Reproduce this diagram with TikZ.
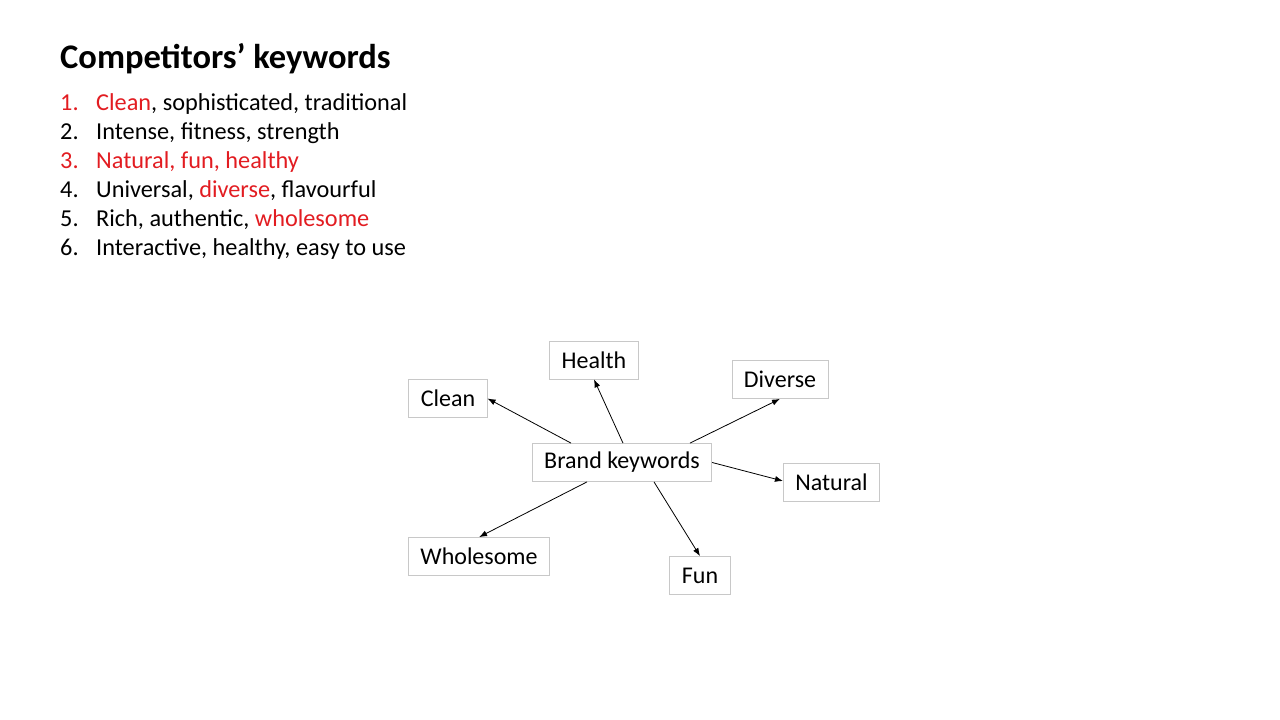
\documentclass[tikz,border=0pt]{standalone}
\usepackage{fontspec}
\setmainfont{Carlito}
\usepackage{xcolor}
\usetikzlibrary{arrows.meta}
\definecolor{keyred}{RGB}{226,28,33}
\definecolor{boxgray}{RGB}{200,200,200}

\begin{document}
\begin{tikzpicture}[x=1pt, y=-1pt,
    item/.style = {anchor=base west, inner sep=0pt, font=\fontsize{24.3}{28}\selectfont},
    kw/.style = {draw=boxgray, line width=0.8pt, inner xsep=12pt, minimum height=38pt, font=\fontsize{24}{28}\selectfont},
    link/.style = {-{Latex[length=8pt,width=6pt]}, line width=0.8pt}]
    \useasboundingbox (0,0) rectangle (1280,720);

    % title and list
    \node [anchor=base west, inner sep=0pt, font=\fontsize{34.5}{38}\bfseries] (title) at (60,68) {Competitors’ keywords};
    \node [item, keyred] (n1) at (60,110) {1.};
    \node [item] (t1) at (96,110) {\textcolor{keyred}{Clean}, sophisticated, traditional};
    \node [item] (n2) at (60,139) {2.};
    \node [item] (t2) at (96,139) {Intense, fitness, strength};
    \node [item, keyred] (n3) at (60,168) {3.};
    \node [item, keyred] (t3) at (96,168) {Natural, fun, healthy};
    \node [item] (n4) at (60,197) {4.};
    \node [item] (t4) at (96,197) {Universal, \textcolor{keyred}{diverse}, flavourful};
    \node [item] (n5) at (60,226) {5.};
    \node [item] (t5) at (96,226) {Rich, authentic, \textcolor{keyred}{wholesome}};
    \node [item] (n6) at (60,255) {6.};
    \node [item] (t6) at (96,255) {Interactive, healthy, easy to use};

    % keyword map
    \node [kw] (brand) at (622,462.5) {Brand keywords};
    \node [kw] (health) at (594,360) {Health};
    \node [kw] (clean) at (448,398.5) {Clean};
    \node [kw] (diverse) at (780,379.5) {Diverse};
    \node [kw] (natural) at (831.5,482) {Natural};
    \node [kw] (wholesome) at (479,556.5) {Wholesome};
    \node [kw] (fun) at (700,575.5) {Fun};

    \draw[link] ([xshift=-51pt]brand.north) -- (clean.east);
    \draw[link] ([xshift=1pt]brand.north) -- (health.south);
    \draw[link] ([xshift=68pt]brand.north) -- (diverse.south);
    \draw[link] (brand.east) -- ([yshift=1pt]natural.west);
    \draw[link] ([xshift=32pt]brand.south) -- (fun.north);
    \draw[link] ([xshift=-35pt]brand.south) -- (wholesome.north);

\end{tikzpicture}
\end{document}
